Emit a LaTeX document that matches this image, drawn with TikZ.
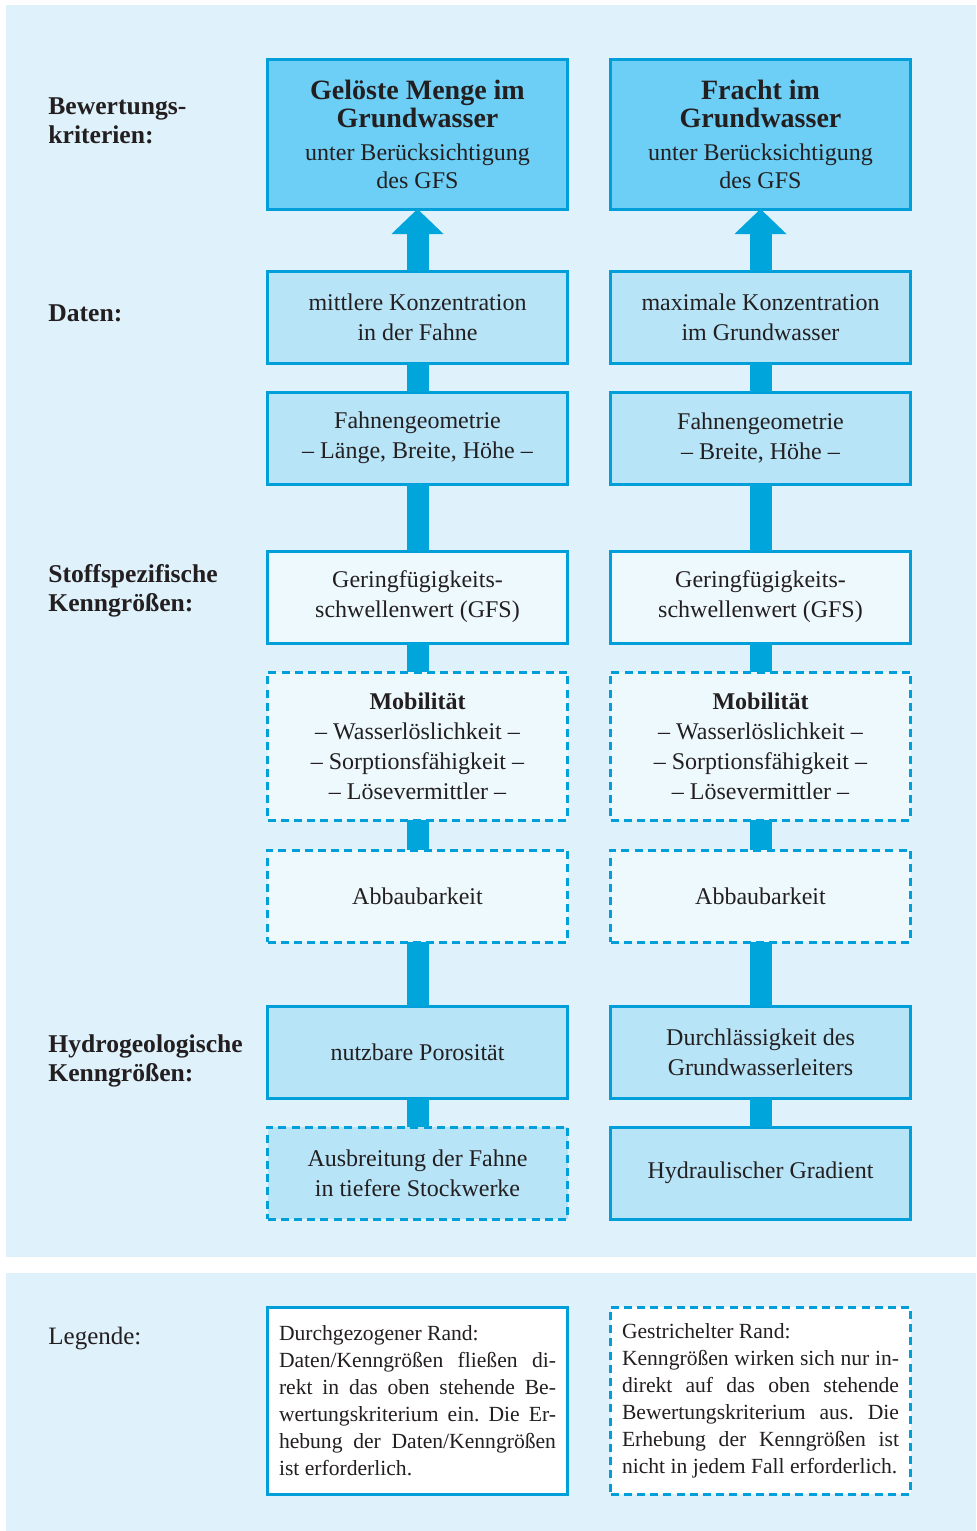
\documentclass[tikz,border=0pt]{standalone}
\usepackage{fontspec}
\setmainfont{Liberation Serif}
\usetikzlibrary{arrows.meta,positioning}

\definecolor{bg}{HTML}{DFF1FB}
\definecolor{frame}{HTML}{009FDA}
\definecolor{conn}{HTML}{00A5DC}
\definecolor{head}{HTML}{6DCFF6}
\definecolor{mid}{HTML}{B8E4F8}
\definecolor{pale}{HTML}{EEF9FE}
\definecolor{ink}{HTML}{231F20}

\newcommand{\bodyfont}{\fontsize{12}{15}\selectfont}
\newcommand{\hdfont}{\fontsize{14}{14.5}\selectfont\bfseries}
\frenchspacing

\begin{document}
\begin{tikzpicture}[x=0.5pt,y=-0.5pt,node distance=14.5pt,
    box/.style={draw=frame,line width=1.5pt,text=ink,minimum width=150pt,
                minimum height=46pt,inner sep=0pt,outer sep=0pt,align=center,
                font=\bodyfont},
    dbox/.style={box,dash pattern=on 4pt off 2.6pt},
    hd/.style={box,fill=head,minimum height=75pt,font=\fontsize{12}{14}\selectfont},
    link/.style={draw=conn,line width=11pt},
    up/.style={link,-{Triangle[width=26pt,length=12.5pt,line width=0pt]}},
    lbl/.style={anchor=west,align=left,inner sep=0pt,text=ink,
                font=\fontsize{12.8}{14.5}\selectfont\bfseries},
    legbox/.style={box,fill=white,minimum height=93.5pt,text width=138.5pt,
                   align=justify,font=\fontsize{10.8}{13.5}\selectfont}]

  \useasboundingbox (0,0) rectangle (976,1531);
  \fill[bg] (6,5) rectangle (976,1257);
  \fill[bg] (6,1273) rectangle (976,1531);

  % left column
  \node[hd]              (kritL) at (417.5,134) {{\hdfont Gelöste Menge im}\\{\hdfont Grundwasser}\\[2.5pt]unter Berücksichtigung\\des GFS};
  \node[box,fill=mid]    (datL) [below=31pt of kritL] {mittlere Konzentration\\in der Fahne};
  \node[box,fill=mid]    (geoL) [below=of datL] {Fahnengeometrie\\– Länge, Breite, Höhe –};
  \node[box,fill=pale]   (gfsL) [below=33.5pt of geoL] {Geringfügigkeits-\\schwellenwert (GFS)};
  \node[dbox,fill=pale,minimum height=74pt] (mobL) [below=of gfsL] {\textbf{Mobilität}\\– Wasserlöslichkeit –\\– Sorptionsfähigkeit –\\– Lösevermittler –};
  \node[dbox,fill=pale]  (abbL) [below=15pt of mobL] {Abbaubarkeit};
  \node[box,fill=mid]    (porL) [below=32pt of abbL] {nutzbare Porosität};
  \node[dbox,fill=mid]   (ausL) [below=of porL] {Ausbreitung der Fahne\\in tiefere Stockwerke};

  % right column
  \node[hd]              (kritR) [right=21.5pt of kritL] {{\hdfont Fracht im}\\{\hdfont Grundwasser}\\[2.5pt]unter Berücksichtigung\\des GFS};
  \node[box,fill=mid]    (datR) [right=21.5pt of datL] {maximale Konzentration\\im Grundwasser};
  \node[box,fill=mid]    (geoR) [right=21.5pt of geoL] {Fahnengeometrie\\– Breite, Höhe –};
  \node[box,fill=pale]   (gfsR) [right=21.5pt of gfsL] {Geringfügigkeits-\\schwellenwert (GFS)};
  \node[dbox,fill=pale,minimum height=74pt] (mobR) [right=21.5pt of mobL] {\textbf{Mobilität}\\– Wasserlöslichkeit –\\– Sorptionsfähigkeit –\\– Lösevermittler –};
  \node[dbox,fill=pale]  (abbR) [right=21.5pt of abbL] {Abbaubarkeit};
  \node[box,fill=mid]    (porR) [right=21.5pt of porL] {Durchlässigkeit des\\Grundwasserleiters};
  \node[box,fill=mid]    (ausR) [right=21.5pt of ausL] {Hydraulischer Gradient};

  % connectors
  \foreach \c in {L,R} {
    \draw[up] (dat\c) -- (krit\c);
    \foreach \a/\b in {dat/geo,geo/gfs,gfs/mob,mob/abb,abb/por,por/aus}
      \draw[link] (\a\c) -- (\b\c);
  }

  % row labels
  \node[lbl] (bew)   at (48,121)  {Bewertungs-\\kriterien:};
  \node[lbl] (daten) at (48,313)  {Daten:};
  \node[lbl] (stoff) at (48,591)  {Stoffspezifische\\Kenngrößen:};
  \node[lbl] (hydro) at (48,1061) {Hydrogeologische\\Kenngrößen:};

  % legend
  \node[anchor=west,inner sep=0pt,text=ink,font=\fontsize{12.5}{15}\selectfont] (leg) at (48,1339) {Legende:};
  \node[legbox] (legL) at (417.5,1400.5) {Durchgezogener Rand:\\Daten/Kenngrößen fließen di-\linebreak rekt in das oben stehende Be-\linebreak wertungskriterium ein. Die Er-\linebreak hebung der Daten/Kenngrößen\linebreak ist erforderlich.};
  \node[legbox,dash pattern=on 4pt off 2.6pt] (legR) [right=21.5pt of legL] {Gestrichelter Rand:\\Kenngrößen wirken sich nur in-\linebreak direkt auf das oben stehende\linebreak Bewertungskriterium aus. Die\linebreak Erhebung der Kenngrößen ist\linebreak nicht in jedem Fall erforderlich.};
\end{tikzpicture}
\end{document}
